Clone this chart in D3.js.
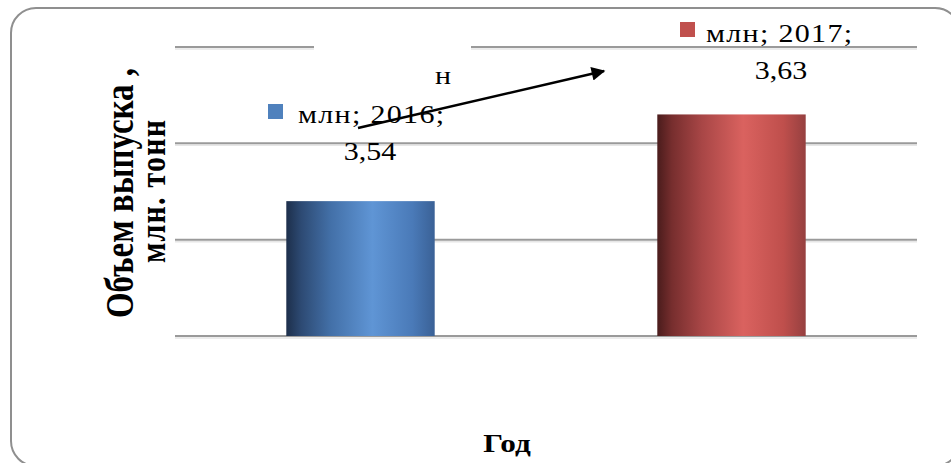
<!DOCTYPE html>
<html><head><meta charset="utf-8">
<script src="https://cdn.jsdelivr.net/npm/d3@7"></script>
<style>html,body{margin:0;padding:0;background:#fff;}svg{display:block;}</style>
</head><body>
<svg id="c" width="951" height="463"></svg>
<script>
const categories = ["2016", "2017"];
const seriesName = "млн";
const values = [3.54, 3.63];
const valueLabels = ["3,54", "3,63"];
const gridTicks = [3.4, 3.5, 3.6, 3.7];
const yTitle1 = "Объем выпуска ,";
const yTitle2 = "млн. тонн";
const xTitle = "Год";
const arrowLetter = "н";

const svg = d3.select("#c");
const plot = {left: 175, right: 917, top: 47, bottom: 336};
const tf = "'Liberation Serif', 'Times New Roman', serif";
const SX = 1.2; // horizontal stretch of the original picture

// outer frame
svg.append("rect").attr("x", 11).attr("y", 8).attr("width", 949).attr("height", 458)
  .attr("rx", 25).attr("ry", 25).attr("fill", "#fff").attr("stroke", "#8f8f8f").attr("stroke-width", 2);

const y = d3.scaleLinear().domain([3.4, 3.7]).range([plot.bottom, plot.top]);
const x = d3.scaleBand().domain(categories).range([plot.left, plot.right]).paddingInner(0.6).paddingOuter(0.3);

const defs = svg.append("defs");
const grads = [
  {id: "gBlue", stops: [[0, "#1d2f4b"], [0.1, "#2d4a73"], [0.3, "#4370a8"], [0.58, "#5f95d5"], [0.85, "#4a7ab8"], [1, "#3a6196"]]},
  {id: "gRed", stops: [[0, "#4a1c1c"], [0.1, "#772e2e"], [0.3, "#a84646"], [0.58, "#da625f"], [0.85, "#bf4f4c"], [1, "#964040"]]}
];
grads.forEach(g => {
  const lg = defs.append("linearGradient").attr("id", g.id).attr("x1", "0%").attr("x2", "100%").attr("y1", "0%").attr("y2", "0%");
  g.stops.forEach(s => lg.append("stop").attr("offset", s[0]).attr("stop-color", s[1]));
});
defs.append("marker").attr("id", "arr").attr("viewBox", "0 0 10 10").attr("refX", 9).attr("refY", 5)
  .attr("markerWidth", 7).attr("markerHeight", 5.5).attr("orient", "auto").attr("markerUnits", "strokeWidth")
  .append("path").attr("d", "M0,0 L10,5 L0,10 Z").attr("fill", "#000");

// gridlines with soft shadow
const grid = svg.append("g");
grid.selectAll("line.s").data(gridTicks).join("line")
  .attr("x1", plot.left).attr("x2", plot.right).attr("y1", d => y(d) + 2).attr("y2", d => y(d) + 2)
  .attr("stroke", "#e6e6e6").attr("stroke-width", 1.5);
grid.selectAll("line.g").data(gridTicks).join("line")
  .attr("x1", plot.left).attr("x2", plot.right).attr("y1", d => y(d)).attr("y2", d => y(d))
  .attr("stroke", "#9a9a9a").attr("stroke-width", 2);

// bars
const colors = ["url(#gBlue)", "url(#gRed)"];
const swatch = ["#4f81bd", "#c0504d"];
svg.append("g").selectAll("rect").data(values).join("rect")
  .attr("x", (d, i) => x(categories[i])).attr("width", x.bandwidth())
  .attr("y", d => y(d)).attr("height", d => y(3.4) - y(d))
  .attr("fill", (d, i) => colors[i]);

// white box behind the "н" label, hiding the top gridline
svg.append("rect").attr("x", 314).attr("y", 40).attr("width", 157).attr("height", 14).attr("fill", "#fff");

// data labels
const labelPos = [
  {sx: 268, sy: 104, tx: 298, ty: 123, vx: 370, vy: 160},
  {sx: 680, sy: 22, tx: 706, ty: 42, vx: 781, vy: 79}
];
const lab = svg.append("g").attr("font-family", tf).attr("font-size", 25).attr("fill", "#000");
values.forEach((v, i) => {
  const p = labelPos[i];
  lab.append("rect").attr("x", p.sx).attr("y", p.sy).attr("width", 15).attr("height", 15).attr("fill", swatch[i]);
  lab.append("text").attr("transform", `translate(${p.tx},${p.ty}) scale(${SX},1)`)
    .attr("letter-spacing", 1.1).text(seriesName + "; " + categories[i] + ";");
  lab.append("text").attr("transform", `translate(${p.vx},${p.vy}) scale(${SX},1)`).attr("text-anchor", "middle").text(valueLabels[i]);
});
lab.append("text").attr("transform", `translate(443,84) scale(${SX},1)`).attr("text-anchor", "middle").text(arrowLetter);

// arrow
svg.append("line").attr("x1", 358).attr("y1", 128).attr("x2", 604).attr("y2", 71)
  .attr("stroke", "#000").attr("stroke-width", 2.5).attr("marker-end", "url(#arr)");

// axis titles
svg.append("text").attr("transform", `translate(133,193) rotate(-90) scale(1,${SX})`).attr("text-anchor", "middle")
  .attr("font-family", tf).attr("font-weight", "bold").attr("font-size", 33).text(yTitle1);
svg.append("text").attr("transform", `translate(165,191) rotate(-90) scale(1,${SX})`).attr("text-anchor", "middle")
  .attr("font-family", tf).attr("font-weight", "bold").attr("font-size", 30).attr("letter-spacing", 1.2).text(yTitle2);
svg.append("text").attr("transform", `translate(507,452) scale(${SX},1)`).attr("text-anchor", "middle")
  .attr("font-family", tf).attr("font-weight", "bold").attr("font-size", 26).text(xTitle);
</script>
</body></html>
